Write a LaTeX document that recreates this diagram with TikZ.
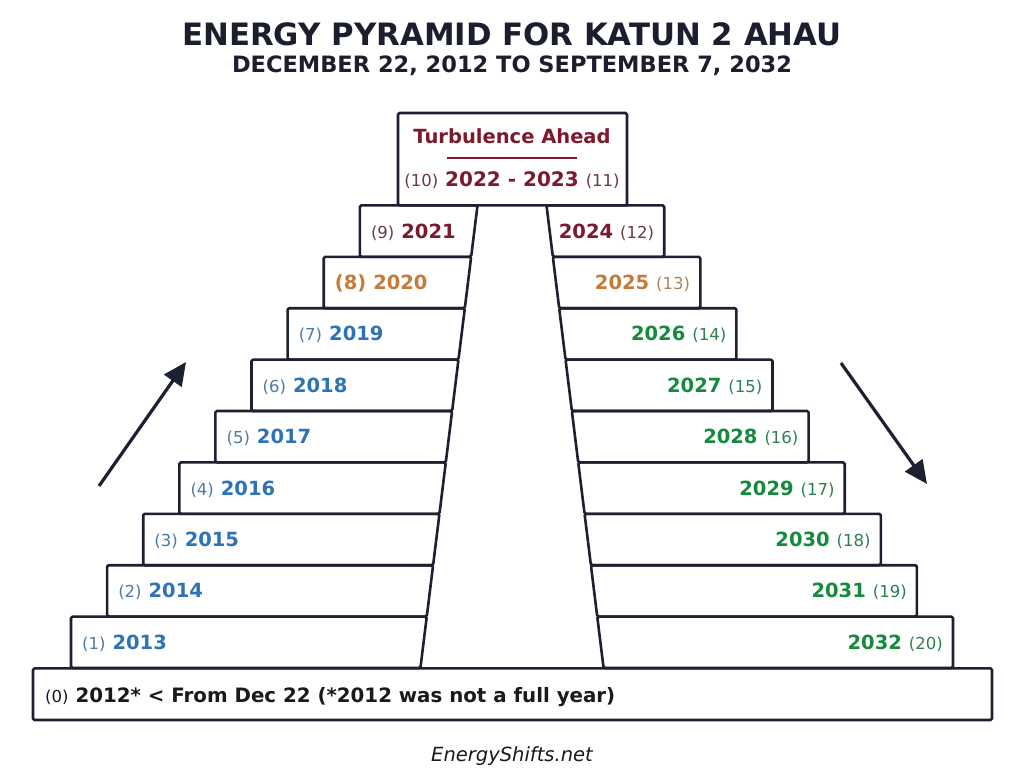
\documentclass[tikz,border=0pt]{standalone}
\usepackage{fontspec}
\setmainfont{DejaVu Sans}
\usetikzlibrary{arrows.meta}
\definecolor{ink}{HTML}{1C2030}
\definecolor{titleC}{HTML}{1B1E2E}
\definecolor{blueY}{HTML}{2E74B5}
\definecolor{blueP}{HTML}{4F7AA5}
\definecolor{grnY}{HTML}{168A3C}
\definecolor{grnP}{HTML}{2F8050}
\definecolor{orgY}{HTML}{C47B3B}
\definecolor{orgP}{HTML}{AA8462}
\definecolor{redY}{HTML}{7B1A2C}
\definecolor{redP}{HTML}{6E3A42}
\definecolor{blk}{HTML}{1A1A1A}
\newcommand\parn[2]{{\fontsize{16.5}{16.5}\selectfont\color{#1}#2}}
\newcommand\yearb[2]{{\fontsize{19.5}{19.5}\selectfont\bfseries\color{#1}#2}}
\newcommand\gap{\hspace{7pt}}
\begin{document}
\begin{tikzpicture}[x=1pt,y=-1pt,
  box/.style={draw=ink,line width=2.6pt,rounded corners=1.5pt,line join=round},
  lbl/.style={inner sep=0pt},
  bigarrow/.style={draw=ink,line width=3.2pt,-{Triangle[length=23pt,width=21pt]}}]
\useasboundingbox (0,0) rectangle (1024,779);
\fill[white] (0,0) rectangle (1024,779);
% title
\node[lbl,anchor=base,text=titleC,font=\fontsize{30.8}{30.8}\selectfont\bfseries] (title) at (512,45) {ENERGY PYRAMID FOR KATUN 2 AHAU};
\node[lbl,anchor=base,text=titleC,font=\fontsize{22.5}{22.5}\selectfont\bfseries] (subtitle) at (512,72) {DECEMBER 22, 2012 TO SEPTEMBER 7, 2032};
% rows
\foreach \k/\lt/\rt in {
 1/{\parn{blueP}{(1)}\gap\yearb{blueY}{2013}}/{\yearb{grnY}{2032}\gap\parn{grnP}{(20)}},
 2/{\parn{blueP}{(2)}\gap\yearb{blueY}{2014}}/{\yearb{grnY}{2031}\gap\parn{grnP}{(19)}},
 3/{\parn{blueP}{(3)}\gap\yearb{blueY}{2015}}/{\yearb{grnY}{2030}\gap\parn{grnP}{(18)}},
 4/{\parn{blueP}{(4)}\gap\yearb{blueY}{2016}}/{\yearb{grnY}{2029}\gap\parn{grnP}{(17)}},
 5/{\parn{blueP}{(5)}\gap\yearb{blueY}{2017}}/{\yearb{grnY}{2028}\gap\parn{grnP}{(16)}},
 6/{\parn{blueP}{(6)}\gap\yearb{blueY}{2018}}/{\yearb{grnY}{2027}\gap\parn{grnP}{(15)}},
 7/{\parn{blueP}{(7)}\gap\yearb{blueY}{2019}}/{\yearb{grnY}{2026}\gap\parn{grnP}{(14)}},
 8/{\yearb{orgY}{(8)\gap2020}}/{\yearb{orgY}{2025}\gap\parn{orgP}{(13)}},
 9/{\parn{redP}{(9)}\gap\yearb{redY}{2021}}/{\yearb{redY}{2024}\gap\parn{redP}{(12)}}}
{
 \pgfmathsetmacro\yb{668-(\k-1)*51.4}
 \pgfmathsetmacro\yt{\yb-51.4}
 \pgfmathsetmacro\xl{71+(\k-1)*36.1}
 \pgfmathsetmacro\ib{477.5-(\yb-205.4)*0.1234}
 \pgfmathsetmacro\it{477.5-(\yt-205.4)*0.1234}
 \draw[box] (\xl,\yt) -- (\it,\yt) -- (\ib,\yb) -- (\xl,\yb) -- cycle;
 \draw[box] (1024-\xl,\yt) -- (1024-\it,\yt) -- (1024-\ib,\yb) -- (1024-\xl,\yb) -- cycle;
 \node[lbl,anchor=base west] (L\k) at (\xl+11,\yb-25.7+7) {\lt};
 \node[lbl,anchor=base east] (R\k) at (1024-\xl-10,\yb-25.7+7) {\rt};
}
% top box
\draw[box] (398,113) rectangle (627,205.4);
\node[lbl,anchor=base,text=redY,font=\fontsize{19.5}{19.5}\selectfont\bfseries] (turb) at (512,143) {Turbulence Ahead};
\draw[redY,line width=2pt] (447,158) -- (577,158);
\node[lbl,anchor=base] (top) at (512,186) {\parn{redP}{(10)}\gap{\fontsize{20}{20}\selectfont\bfseries\color{redY}2022 - 2023}\gap\parn{redP}{(11)}};
% base row
\draw[box] (33,668.4) rectangle (992,720);
\node[lbl,anchor=base west] (L0) at (45,702) {\parn{blk}{(0)}\gap{\fontsize{19.8}{19.8}\selectfont\bfseries\color{blk}2012* < From Dec 22 (*2012 was not a full year)}};
% arrows
\coordinate (a1s) at (99,486);
\coordinate (a1e) at (186,362);
\coordinate (a2s) at (841,363);
\coordinate (a2e) at (927,484);
\draw[bigarrow] (a1s) -- (a1e);
\draw[bigarrow] (a2s) -- (a2e);
% footer
\node[lbl,anchor=base,text=blk,font=\fontsize{19.5}{19.5}\selectfont\itshape] (foot) at (512,761) {EnergyShifts.net};
\end{tikzpicture}
\end{document}
